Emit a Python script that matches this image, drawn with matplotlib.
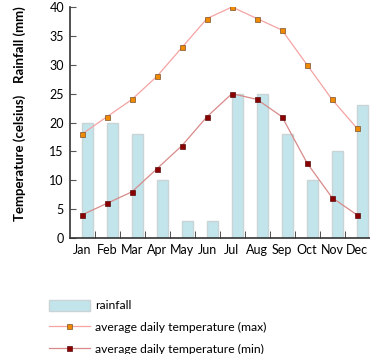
import matplotlib
matplotlib.use('Agg')
import matplotlib.pyplot as plt
import numpy as np

plt.rcParams['font.family'] = ['Lato', 'DejaVu Sans']

months = ['Jan', 'Feb', 'Mar', 'Apr', 'May', 'Jun', 'Jul', 'Aug', 'Sep', 'Oct', 'Nov', 'Dec']
rainfall = [20, 20, 18, 10, 3, 3, 25, 25, 18, 10, 15, 23]
temp_max = [18, 21, 24, 28, 33, 38, 40, 38, 36, 30, 24, 19]
temp_min = [4, 6, 8, 12, 16, 21, 25, 24, 21, 13, 7, 4]

fig = plt.figure(figsize=(3.7, 3.54), dpi=100)
ax = fig.add_axes([69.5 / 370, 1 - 238 / 354, 300 / 370, 231 / 354])

x = np.arange(len(months))
bars = ax.bar(x, rainfall, width=0.42, align='edge', color='#c2e5ec',
              edgecolor='#c8d4d6', linewidth=1, label='rainfall', zorder=1)
l1, = ax.plot(x, temp_max, color='#f5a3a3', lw=0.9, marker='s', markersize=3.6,
              markerfacecolor='#f08a00', markeredgecolor='#7a5030', markeredgewidth=0.5,
              label='average daily temperature (max)', zorder=3)
l2, = ax.plot(x, temp_min, color='#d88a8a', lw=0.9, marker='s', markersize=3.6,
              markerfacecolor='#8b0000', markeredgecolor='#5a1010', markeredgewidth=0.5,
              label='average daily temperature (min)', zorder=3)

ax.set_xlim(-0.5, 11.5)
ax.set_ylim(0, 40)
ax.set_yticks(range(0, 41, 5))
ax.set_xticks(x)
ax.set_xticklabels(months)
ax.set_xticks(np.arange(0.5, 11.5, 1), minor=True)
ax.tick_params(axis='x', which='major', length=0, pad=4, labelsize=9)
ax.tick_params(axis='x', which='minor', direction='in', length=5, color='#333333')
ax.tick_params(axis='y', direction='in', length=4, labelsize=9, pad=4, color='#555555')
for s in ['top', 'right']:
    ax.spines[s].set_visible(False)
for s in ['left', 'bottom']:
    ax.spines[s].set_color('#333333')
    ax.spines[s].set_linewidth(1.2)

fig.text(20 / 370, 1 - 45 / 354, 'Rainfall (mm)', rotation=90, fontsize=9.5,
         fontweight='bold', ha='center', va='center')
fig.text(20 / 370, 1 - 158 / 354, 'Temperature (celsius)', rotation=90, fontsize=9.5,
         fontweight='bold', ha='center', va='center')

fig.legend([bars, l1, l2], [bars.get_label(), l1.get_label(), l2.get_label()],
           loc='upper left', bbox_to_anchor=(44 / 370, 1 - 295 / 354), frameon=False,
           fontsize=8.7, handlelength=3.4, handleheight=1.0, labelspacing=0.85,
           handletextpad=0.4, borderaxespad=0)

fig.savefig('out.png', dpi=100)
